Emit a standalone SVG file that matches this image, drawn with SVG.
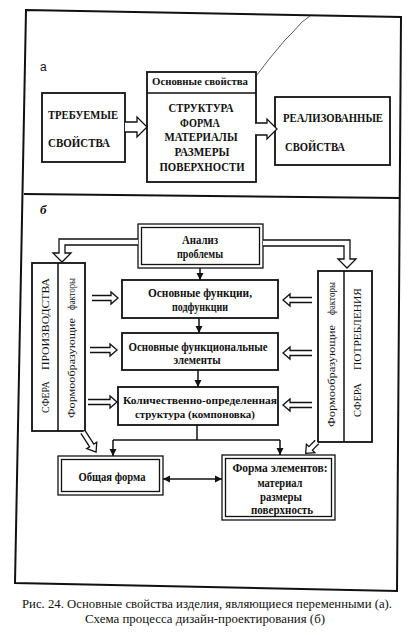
<svg xmlns="http://www.w3.org/2000/svg" width="410" height="635" viewBox="0 0 410 635">
<defs>
<style>
.fr{fill:none;stroke:#111;stroke-width:2}
.bx{fill:#fff;stroke:#111;stroke-width:1.8}
.bt{fill:#fff;stroke:#111;stroke-width:1.3}
.ln{fill:none;stroke:#111;stroke-width:1.5}
.ha{fill:#fff;stroke:#111;stroke-width:1.3;stroke-linejoin:miter}
.t{font-family:"Liberation Serif","Times New Roman",serif;fill:#111;font-weight:bold}
.c{text-anchor:middle}
.r{font-family:"Liberation Serif","Times New Roman",serif;fill:#111;font-size:11px}
.cap{font-family:"Liberation Serif","Times New Roman",serif;fill:#111;font-size:13px}
</style>
<marker id="ah" viewBox="0 0 10 10" refX="10" refY="5" markerWidth="7" markerHeight="8" markerUnits="userSpaceOnUse" orient="auto-start-reverse"><path d="M0,0 L10,5 L0,10 z" fill="#111"/></marker>
</defs>
<rect width="410" height="635" fill="#fff"/>
<g id="frame">
<polygon class="fr" points="26,10 401,17 397,591 15,583"/>
<line class="fr" x1="24" y1="194" x2="400" y2="198"/>
</g>
<g id="scratch"><polyline points="310,16 302,22 292,33 285,40 270,58 253,80 240,97 228,110 218,128" fill="none" stroke="#333" stroke-width="0.8"/></g>

<text x="40" y="71" font-family="Liberation Sans,Arial,sans-serif" font-size="12" fill="#111">а</text>
<g id="req">
<rect class="bx" x="42" y="93" width="83" height="69"/>
<text class="t" x="48" y="119" font-size="11.5" textLength="70" lengthAdjust="spacingAndGlyphs">ТРЕБУЕМЫЕ</text>
<text class="t" x="48" y="147" font-size="11.5" textLength="62" lengthAdjust="spacingAndGlyphs">СВОЙСТВА</text>
</g>
<g id="basic">
<rect class="bx" x="147" y="72" width="109" height="110" stroke-width="2.2"/>
<line class="ln" x1="147" y1="93" x2="256" y2="93" stroke-width="1.8"/>
<text class="t c" x="200" y="85" font-size="11" font-weight="normal" textLength="96" lengthAdjust="spacingAndGlyphs">Основные свойства</text>
<text class="t c" x="201" y="112" font-size="11.5" textLength="65" lengthAdjust="spacingAndGlyphs">СТРУКТУРА</text>
<text class="t c" x="200" y="127" font-size="11.5" textLength="40" lengthAdjust="spacingAndGlyphs">ФОРМА</text>
<text class="t c" x="201" y="141" font-size="11.5" textLength="73" lengthAdjust="spacingAndGlyphs">МАТЕРИАЛЫ</text>
<text class="t c" x="202" y="156" font-size="11.5" textLength="55" lengthAdjust="spacingAndGlyphs">РАЗМЕРЫ</text>
<text class="t c" x="202" y="171" font-size="11.5" textLength="85" lengthAdjust="spacingAndGlyphs">ПОВЕРХНОСТИ</text>
</g>
<g id="real">
<rect class="bx" x="275" y="97" width="115" height="68"/>
<text class="t" x="283" y="122" font-size="11.5" textLength="100" lengthAdjust="spacingAndGlyphs">РЕАЛИЗОВАННЫЕ</text>
<text class="t" x="285" y="151" font-size="11.5" textLength="60" lengthAdjust="spacingAndGlyphs">СВОЙСТВА</text>
</g>

<text x="40" y="214" font-family="Liberation Serif,serif" font-style="italic" font-weight="bold" font-size="13" fill="#111">б</text>

<g id="analysis">
<rect class="bt" x="138" y="224" width="125" height="44"/>
<rect class="bt" x="141.5" y="227.5" width="118" height="37" stroke-width="1.8"/>
<text class="t c" x="200" y="244" font-size="12" textLength="36" lengthAdjust="spacingAndGlyphs">Анализ</text>
<text class="t c" x="200" y="258" font-size="12" textLength="46" lengthAdjust="spacingAndGlyphs">проблемы</text>
</g>
<g id="f1">
<rect class="bx" x="122" y="280" width="156" height="38"/>
<text class="t c" x="200" y="297" font-size="12" textLength="104" lengthAdjust="spacingAndGlyphs">Основные функции,</text>
<text class="t c" x="200" y="311" font-size="12" textLength="56" lengthAdjust="spacingAndGlyphs">подфункции</text>
</g>
<g id="f2">
<rect class="bx" x="122" y="333" width="156" height="37"/>
<text class="t c" x="198" y="351" font-size="12" textLength="139" lengthAdjust="spacingAndGlyphs">Основные функциональные</text>
<text class="t c" x="197" y="364" font-size="12" textLength="47" lengthAdjust="spacingAndGlyphs">элементы</text>
</g>
<g id="f3">
<rect class="bx" x="118" y="387" width="160" height="38"/>
<text class="t c" x="200" y="404" font-size="11" textLength="154" lengthAdjust="spacingAndGlyphs">Количественно-определенная</text>
<text class="t c" x="195" y="418" font-size="11" textLength="120" lengthAdjust="spacingAndGlyphs">структура (компоновка)</text>
</g>
<g id="prod">
<rect class="bx" x="32" y="263" width="53" height="168"/>
<line class="ln" x1="58" y1="263" x2="58" y2="431"/>
<text class="r" transform="translate(49,413) rotate(-90)" textLength="32" lengthAdjust="spacingAndGlyphs">СФЕРА</text>
<text class="r" transform="translate(49,370) rotate(-90)" textLength="92" lengthAdjust="spacingAndGlyphs">ПРОИЗВОДСТВА</text>
<text class="r" transform="translate(75,418) rotate(-90)" textLength="100" lengthAdjust="spacingAndGlyphs">Формообразующие</text>
<text class="r" transform="translate(75,310) rotate(-90)" textLength="32" lengthAdjust="spacingAndGlyphs">факторы</text>
</g>
<g id="cons">
<rect class="bx" x="318" y="271" width="54" height="171"/>
<line class="ln" x1="344" y1="271" x2="344" y2="442"/>
<text class="r" transform="translate(335,427) rotate(-90)" textLength="102" lengthAdjust="spacingAndGlyphs">Формообразующие</text>
<text class="r" transform="translate(335,315) rotate(-90)" textLength="33" lengthAdjust="spacingAndGlyphs">факторы</text>
<text class="r" transform="translate(361,417) rotate(-90)" textLength="34" lengthAdjust="spacingAndGlyphs">СФЕРА</text>
<text class="r" transform="translate(361,370) rotate(-90)" textLength="82" lengthAdjust="spacingAndGlyphs">ПОТРЕБЛЕНИЯ</text>
</g>
<g id="general">
<rect class="bt" x="58" y="456" width="105" height="39"/>
<rect class="bt" x="61.5" y="459.5" width="98" height="32" stroke-width="1.8"/>
<text class="t c" x="112" y="481" font-size="12" textLength="67" lengthAdjust="spacingAndGlyphs">Общая форма</text>
</g>
<g id="elements">
<rect class="bt" x="222" y="455" width="113" height="65"/>
<rect class="bt" x="225.5" y="458.5" width="106" height="58" stroke-width="1.8"/>
<text class="t c" x="280" y="472" font-size="12" textLength="95" lengthAdjust="spacingAndGlyphs">Форма элементов:</text>
<text class="t c" x="280" y="487" font-size="12" textLength="45" lengthAdjust="spacingAndGlyphs">материал</text>
<text class="t c" x="281" y="501" font-size="12" textLength="42" lengthAdjust="spacingAndGlyphs">размеры</text>
<text class="t c" x="282" y="514" font-size="12" textLength="62" lengthAdjust="spacingAndGlyphs">поверхность</text>
</g>

<g id="connectors">
<path class="ha" d="M125,122 H137 V117 L147,127 L137,137 V132 H125"/>
<path class="ha" d="M255,123 H267 V119 L277,129 L267,139 V135 H255"/>
<path class="ha" d="M138,239 H59 V253 H53 L62,262 L71,253 H65 V245 H138"/>
<path class="ha" d="M263,240 H350 V259 H356 L347,268 L338,259 H344 V246 H263"/>
<path class="ha" d="M92,295.5 H111 V292 L118,298 L111,304 V300.5 H92"/>
<path class="ha" d="M90,347.5 H110 V344 L117,350 L110,356 V352.5 H90"/>
<path class="ha" d="M88,399.5 H110 V396 L117,402 L110,408 V404.5 H88"/>
<path class="ha" d="M312,297.5 H290 V294 L283,300 L290,306 V302.5 H312"/>
<path class="ha" d="M312,350.5 H290 V347 L283,353 L290,359 V355.5 H312"/>
<path class="ha" d="M312,402.5 H290 V399 L283,405 L290,411 V407.5 H312"/>
<path class="ha" transform="translate(83,432) rotate(57)" d="M0,-2.5 H16 V-6 L24,0 L16,6 V2.5 H0"/>
<path class="ha" transform="translate(317,442) rotate(135)" d="M0,-2.5 H9 V-6 L16,0 L9,6 V2.5 H0"/>
<line class="ln" x1="200" y1="268" x2="200" y2="280" marker-end="url(#ah)"/>
<line class="ln" x1="199" y1="318" x2="199" y2="333" marker-end="url(#ah)"/>
<line class="ln" x1="198" y1="370" x2="198" y2="387" marker-end="url(#ah)"/>
<line class="ln" x1="197" y1="425" x2="197" y2="440"/>
<line class="ln" x1="113" y1="440" x2="280" y2="440"/>
<line class="ln" x1="113" y1="440" x2="113" y2="456" marker-end="url(#ah)"/>
<line class="ln" x1="280" y1="440" x2="280" y2="455" marker-end="url(#ah)"/>
<line class="ln" x1="163" y1="479" x2="222" y2="479" marker-start="url(#ah)" marker-end="url(#ah)"/>
</g>

<g id="caption">
<text class="cap" x="22" y="608" textLength="370" lengthAdjust="spacingAndGlyphs">Рис. 24. Основные свойства изделия, являющиеся переменными (а).</text>
<text class="cap c" x="205" y="623" textLength="240" lengthAdjust="spacingAndGlyphs">Схема процесса дизайн-проектирования (б)</text>
</g>
</svg>
